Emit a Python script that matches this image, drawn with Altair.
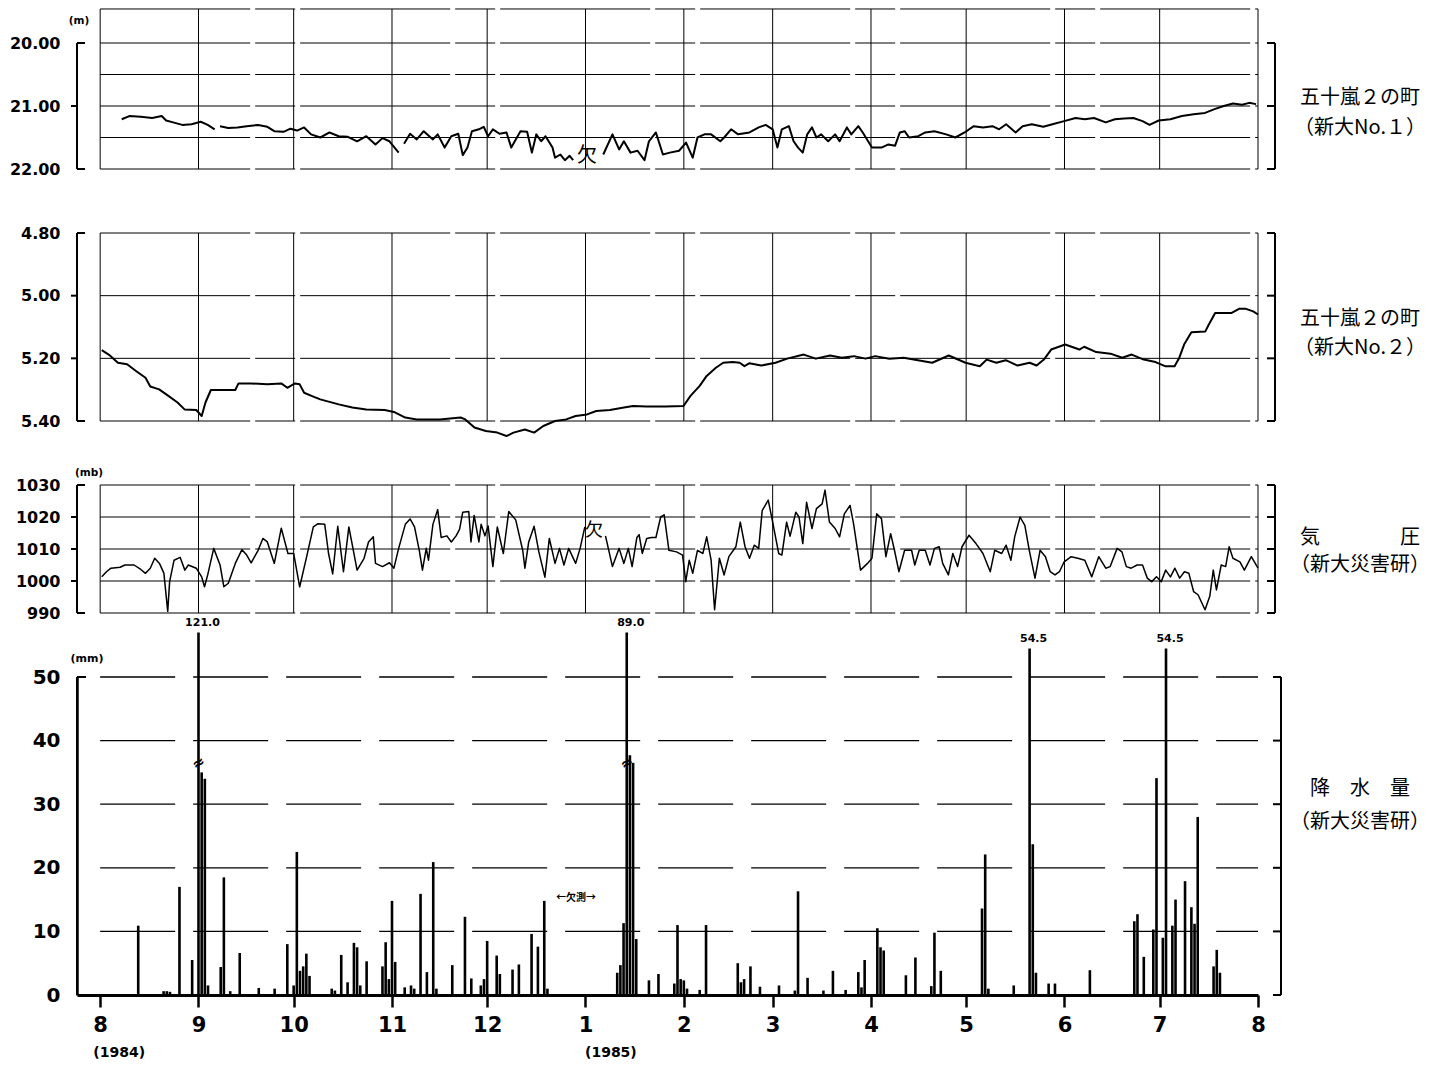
import json
import altair as alt
import pandas as pd

# ------------------------------------------------------------------ data
# x = days since 1 Aug 1984
MONTH_DAYS = [0, 31, 61, 92, 122, 153, 184, 212, 243, 273, 304, 334, 365]
MONTH_LABELS = ["8", "9", "10", "11", "12", "1", "2", "3", "4", "5", "6", "7", "8"]
YEAR_DAYS = [6, 161]
YEAR_LABELS = ["(1984)", "(1985)"]

# panel 1: 五十嵐2の町 (新大No.1), water level (m)
W1_TICKS = [20.0, 21.0, 22.0]
W1_GRID = [19.46, 20.0, 20.5, 21.0, 21.5, 22.0]
W1_SEG_A = [(6.8, 21.21), (9.2, 21.16), (12.8, 21.17), (16.4, 21.19), (19.4, 21.16), (20.8, 21.23),
            (23.0, 21.26), (25.9, 21.30), (28.8, 21.29), (31.7, 21.25), (33.9, 21.30), (36.1, 21.37)]
W1_SEG_B = [(37.8, 21.32), (40.4, 21.35), (43.3, 21.34), (46.2, 21.32), (49.8, 21.30), (52.7, 21.33),
            (54.9, 21.40), (57.8, 21.41), (60.0, 21.36), (62.1, 21.39), (64.3, 21.34), (66.5, 21.45),
            (69.4, 21.50), (72.3, 21.42), (75.2, 21.48), (78.1, 21.49), (81.0, 21.56), (83.9, 21.48),
            (86.8, 21.61), (89.0, 21.51), (91.2, 21.56), (94.1, 21.74)]
W1_SEG_C = [(95.8, 21.60), (97.7, 21.44), (99.8, 21.53), (102.0, 21.40), (104.9, 21.53), (106.4, 21.45),
            (108.6, 21.66), (110.7, 21.48), (112.9, 21.44), (114.3, 21.78), (115.8, 21.66), (117.2, 21.40),
            (119.4, 21.37), (120.9, 21.33), (122.3, 21.48), (123.8, 21.37), (125.9, 21.44), (128.1, 21.42),
            (129.6, 21.66), (132.5, 21.40), (134.6, 21.41), (136.1, 21.74), (137.5, 21.45), (139.0, 21.56),
            (140.4, 21.48), (142.6, 21.66), (143.4, 21.82), (145.1, 21.77), (146.5, 21.86), (148.0, 21.79),
            (149.1, 21.86)]
W1_SEG_D = [(158.6, 21.77), (161.5, 21.45), (163.6, 21.69), (165.1, 21.56), (167.2, 21.74), (169.4, 21.71),
            (171.6, 21.86), (173.0, 21.56), (175.2, 21.42), (177.4, 21.77), (179.6, 21.74), (182.5, 21.71),
            (184.7, 21.58), (186.8, 21.82), (188.3, 21.50), (190.5, 21.45), (192.6, 21.45), (195.5, 21.56),
            (196.7, 21.50), (198.9, 21.37), (201.1, 21.45), (204.7, 21.42), (207.6, 21.34), (209.8, 21.30),
            (212.0, 21.37), (213.5, 21.66), (214.9, 21.37), (217.1, 21.32), (218.6, 21.56), (220.0, 21.66),
            (221.5, 21.74), (222.9, 21.45), (224.4, 21.34), (225.8, 21.50), (227.3, 21.45), (229.5, 21.56),
            (231.7, 21.45), (233.1, 21.56), (235.4, 21.34), (236.8, 21.45), (239.0, 21.32), (240.4, 21.42),
            (243.3, 21.66), (246.3, 21.66), (248.5, 21.61), (250.6, 21.63), (252.1, 21.42), (253.6, 21.40),
            (255.0, 21.50), (257.9, 21.48), (260.1, 21.42), (263.0, 21.40), (266.7, 21.45), (269.6, 21.50),
            (272.5, 21.42), (275.4, 21.32), (278.3, 21.34), (281.3, 21.32), (283.4, 21.37), (285.6, 21.29),
            (288.6, 21.42), (290.8, 21.32), (293.7, 21.29), (297.3, 21.33), (300.2, 21.29), (303.9, 21.24),
            (307.5, 21.19), (310.4, 21.21), (313.3, 21.19), (317.0, 21.26), (319.9, 21.21), (322.8, 21.20),
            (325.7, 21.19), (328.6, 21.24), (330.8, 21.30), (333.7, 21.23), (337.4, 21.21), (341.0, 21.16),
            (344.7, 21.13), (348.3, 21.11), (351.3, 21.05), (354.2, 21.00), (357.1, 20.96), (360.0, 20.98),
            (362.2, 20.95), (364.4, 20.97)]
W1_SEGMENTS = [W1_SEG_A, W1_SEG_B, W1_SEG_C, W1_SEG_D]
W1_MISSING = [(153.5, 21.79, "欠")]

# panel 2: 五十嵐2の町 (新大No.2), water level (m)
W2_TICKS = [4.80, 5.00, 5.20, 5.40]
W2_GRID = [4.80, 5.00, 5.20, 5.40]
W2_SERIES = [(0.5, 5.174), (2.7, 5.188), (5.6, 5.214), (8.5, 5.219), (11.4, 5.241), (14.3, 5.262),
             (15.8, 5.290), (18.6, 5.299), (21.5, 5.320), (24.4, 5.341), (26.6, 5.363), (30.3, 5.365),
             (32.0, 5.384), (33.2, 5.341), (34.9, 5.301), (37.5, 5.301), (42.6, 5.301), (43.6, 5.280),
             (47.6, 5.280), (52.7, 5.283), (57.1, 5.280), (59.0, 5.294), (61.4, 5.280), (62.9, 5.283),
             (64.3, 5.310), (67.2, 5.322), (69.4, 5.331), (72.3, 5.339), (75.2, 5.347), (79.5, 5.357),
             (83.9, 5.363), (89.7, 5.365), (92.6, 5.371), (96.2, 5.389), (99.8, 5.395), (107.1, 5.395),
             (113.6, 5.389), (115.1, 5.395), (118.0, 5.421), (121.6, 5.432), (125.2, 5.437), (128.1, 5.448),
             (130.3, 5.437), (133.9, 5.427), (136.8, 5.437), (139.7, 5.416), (143.4, 5.400), (146.9, 5.395),
             (149.9, 5.384), (153.5, 5.379), (156.4, 5.368), (160.7, 5.365), (165.1, 5.357), (168.0, 5.352),
             (172.3, 5.354), (178.1, 5.354), (183.9, 5.352), (186.1, 5.320), (189.0, 5.288), (191.2, 5.256),
             (194.1, 5.230), (196.4, 5.214), (199.4, 5.212), (201.6, 5.214), (203.1, 5.225), (204.6, 5.216),
             (208.4, 5.223), (212.9, 5.214), (216.6, 5.201), (221.8, 5.188), (225.6, 5.201), (230.1, 5.191),
             (233.8, 5.198), (237.6, 5.193), (241.3, 5.201), (244.3, 5.193), (248.8, 5.201), (253.3, 5.198),
             (257.8, 5.206), (262.3, 5.214), (267.5, 5.191), (272.8, 5.214), (277.3, 5.225), (279.5, 5.204),
             (282.5, 5.214), (285.5, 5.206), (289.2, 5.223), (293.0, 5.214), (295.2, 5.223), (297.5, 5.204),
             (299.8, 5.172), (304.2, 5.156), (308.7, 5.172), (310.2, 5.163), (314.0, 5.180), (318.5, 5.185),
             (322.2, 5.198), (325.2, 5.188), (329.0, 5.204), (332.7, 5.212), (335.7, 5.225), (338.7, 5.225),
             (340.2, 5.198), (341.7, 5.156), (344.0, 5.117), (348.4, 5.114), (349.5, 5.092), (351.5, 5.055),
             (356.7, 5.055), (359.0, 5.042), (361.2, 5.042), (363.5, 5.050), (365.0, 5.060)]
W2_SEGMENTS = [W2_SERIES]

# panel 3: 気圧 (新大災害研), pressure (mb)
P_TICKS = [990, 1000, 1010, 1020, 1030]
P_GRID = [990, 1000, 1010, 1020, 1030]
P_SEG_1 = [(0.5, 1001.3), (2.0, 1002.9), (3.4, 1004.0), (6.3, 1004.3), (7.8, 1005.0), (10.7, 1005.0),
           (12.8, 1003.6), (14.3, 1002.4), (15.8, 1004.0), (17.2, 1007.1), (18.7, 1005.5), (20.1, 1002.4),
           (21.3, 990.5), (21.9, 999.8), (23.3, 1006.5), (25.2, 1007.4), (26.7, 1003.4), (27.8, 1005.0),
           (30.3, 1004.0), (32.0, 1001.3), (32.9, 998.2), (33.9, 1001.9), (35.8, 1010.2), (37.8, 1005.0),
           (39.0, 998.2), (40.4, 999.3), (42.6, 1005.5), (44.7, 1009.8), (46.2, 1008.1), (47.6, 1005.7),
           (49.8, 1009.6), (51.3, 1013.3), (52.7, 1012.2), (54.9, 1005.5), (57.1, 1016.5), (59.2, 1008.6),
           (61.0, 1008.6), (62.9, 998.2), (65.1, 1007.6), (67.2, 1016.9), (68.7, 1017.9), (70.8, 1017.7),
           (72.0, 1008.6), (73.3, 1002.2), (74.9, 1017.1), (76.7, 1002.9), (78.4, 1016.9), (81.0, 1003.4),
           (83.2, 1007.1), (84.6, 1012.2), (86.1, 1013.8), (86.8, 1005.5), (89.0, 1004.5), (91.2, 1005.7),
           (92.6, 1004.0), (94.1, 1010.2), (96.2, 1017.7), (97.7, 1019.4), (99.1, 1016.9), (100.6, 1009.6),
           (101.6, 1003.4), (102.8, 1010.2), (103.5, 1006.5), (104.9, 1017.7), (106.4, 1022.3), (107.5, 1013.6),
           (109.3, 1014.1), (110.7, 1012.2), (112.2, 1014.1), (113.3, 1016.1), (114.3, 1021.5), (116.2, 1021.7),
           (116.9, 1012.2), (117.9, 1020.5), (119.4, 1012.2), (120.1, 1017.7), (121.3, 1014.1), (122.3, 1017.2),
           (123.8, 1004.5), (125.2, 1016.9), (127.1, 1008.6), (128.8, 1021.7), (131.0, 1019.1), (133.2, 1009.6),
           (133.9, 1004.0), (135.1, 1012.2), (136.8, 1017.1), (138.3, 1009.1), (140.2, 1001.2), (141.6, 1013.3),
           (143.4, 1005.5), (144.8, 1010.2), (146.2, 1005.0), (147.7, 1010.2), (149.9, 1005.5), (151.3, 1010.2),
           (152.8, 1016.9)]
P_SEG_2 = [(159.3, 1014.1), (161.5, 1004.5), (163.6, 1010.2), (165.1, 1005.5), (166.5, 1010.2), (167.7, 1004.5),
           (169.2, 1013.6), (169.9, 1014.5), (170.9, 1008.6), (172.3, 1013.3), (173.8, 1013.6), (175.2, 1013.6),
           (176.7, 1020.0), (177.8, 1020.7), (179.3, 1009.6), (181.7, 1009.1), (183.6, 1008.1), (184.6, 999.8),
           (185.7, 1006.5), (186.8, 1002.4), (188.3, 1009.6), (190.0, 1008.6), (191.2, 1013.8), (192.6, 1006.5),
           (193.7, 991.0), (195.2, 1007.1), (196.7, 1001.9), (198.2, 1007.6), (200.4, 1010.7), (201.8, 1018.4),
           (203.3, 1010.7), (204.7, 1007.1), (206.2, 1011.2), (207.6, 1010.2), (208.7, 1022.0), (210.6, 1025.3),
           (212.0, 1018.4), (213.9, 1008.6), (214.9, 1008.1), (216.4, 1018.4), (217.5, 1014.0), (219.3, 1021.5),
           (220.3, 1020.0), (221.5, 1011.7), (222.7, 1024.6), (224.4, 1016.4), (225.8, 1022.6), (227.6, 1024.1),
           (228.5, 1028.4), (229.9, 1018.4), (231.7, 1016.4), (233.1, 1013.8), (234.6, 1021.0), (236.4, 1023.6),
           (237.5, 1017.9), (239.7, 1003.4), (241.9, 1005.5), (243.3, 1007.1), (244.8, 1021.0), (246.3, 1019.5),
           (247.7, 1007.6), (249.2, 1014.8), (250.4, 1009.6), (251.8, 1002.9), (253.6, 1009.6), (255.8, 1009.6),
           (256.8, 1005.0), (258.2, 1009.6), (260.1, 1009.6), (261.6, 1005.0), (263.0, 1010.2), (264.5, 1010.7),
           (265.6, 1005.5), (267.4, 1001.9), (268.8, 1008.6), (270.3, 1004.5), (271.7, 1010.7), (273.9, 1014.3),
           (276.1, 1011.7), (278.3, 1008.6), (280.6, 1002.9), (282.0, 1009.6), (284.2, 1008.6), (285.6, 1011.2),
           (287.1, 1006.5), (288.3, 1013.8), (290.0, 1020.0), (291.5, 1017.4), (292.9, 1009.6), (294.7, 1000.9),
           (296.3, 1009.6), (298.0, 1007.6), (299.5, 1002.9), (301.0, 1001.9), (302.4, 1002.9), (303.9, 1006.0),
           (306.1, 1007.6), (308.2, 1007.1), (310.4, 1006.5), (312.6, 1001.3), (314.8, 1007.6), (317.0, 1004.0),
           (318.4, 1004.5), (320.6, 1010.2), (322.1, 1009.1), (323.5, 1004.5), (325.0, 1004.0), (326.9, 1005.0),
           (328.6, 1005.0), (330.1, 1000.9), (331.5, 999.8), (333.0, 1001.3), (334.5, 999.8), (335.9, 1003.4),
           (337.4, 1001.3), (338.8, 1004.0), (340.3, 1000.9), (341.8, 1002.9), (343.2, 1002.4), (344.7, 996.7),
           (346.1, 995.7), (348.3, 991.0), (349.8, 995.2), (350.9, 1003.4), (351.9, 997.2), (353.4, 1005.0),
           (354.8, 1004.5), (355.9, 1010.7), (357.1, 1007.1), (359.3, 1006.0), (360.7, 1003.4), (362.9, 1007.6),
           (365.0, 1004.0)]
P_SEGMENTS = [P_SEG_1, P_SEG_2]
P_MISSING = [(155.7, 1015.5, "欠")]

# panel 4: 降水量 (新大災害研), daily precipitation (mm)
RAIN_TICKS = [0, 10, 20, 30, 40, 50]
RAIN_GRID = [10, 20, 30, 40, 50]
RAIN = [(12, 10.9), (20, 0.6), (21, 0.6), (22, 0.5), (25, 17.0), (29, 5.5), (31, 121.0), (32, 35.0),
        (33, 34.0), (34, 1.5), (38, 4.4), (39, 18.5), (41, 0.6), (44, 6.6), (50, 1.1), (55, 1.0), (59, 8.0),
        (61, 1.5), (62, 22.5), (63, 3.8), (64, 4.5), (65, 6.5), (66, 3.0), (73, 1.0), (74, 0.7), (76, 6.3),
        (78, 2.0), (80, 8.2), (81, 7.5), (82, 1.5), (84, 5.3), (89, 4.5), (90, 8.3), (91, 2.5), (92, 14.8),
        (93, 5.2), (96, 1.2), (98, 1.5), (99, 1.0), (101, 15.9), (103, 3.6), (105, 20.9), (106, 1.0),
        (111, 4.7), (115, 12.3), (117, 2.6), (120, 1.5), (121, 2.5), (122, 8.5), (125, 6.2), (126, 3.3),
        (130, 4.0), (132, 4.8), (136, 9.6), (138, 7.6), (140, 14.8), (141, 1.0), (163, 3.5), (164, 4.7),
        (165, 11.3), (166, 89.0), (167, 37.7), (168, 36.5), (169, 8.8), (173, 2.3), (176, 3.3), (181, 1.8),
        (182, 11.0), (183, 2.5), (184, 2.3), (185, 1.0), (189, 0.8), (191, 11.0), (201, 5.0), (202, 2.0),
        (203, 2.5), (205, 4.5), (208, 1.3), (214, 1.5), (219, 0.7), (220, 16.3), (223, 2.7), (228, 0.7),
        (231, 3.8), (235, 0.8), (239, 3.6), (240, 1.2), (241, 5.5), (245, 10.5), (246, 7.5), (247, 7.0),
        (254, 3.1), (257, 5.9), (262, 1.4), (263, 9.8), (265, 3.8), (278, 13.6), (279, 22.1), (280, 1.0),
        (288, 1.5), (293, 54.5), (294, 23.7), (295, 3.5), (299, 1.8), (301, 1.8), (312, 3.9), (326, 11.6),
        (327, 12.7), (329, 6.0), (332, 10.3), (333, 34.1), (335, 9.0), (336, 54.5), (338, 10.9), (339, 15.0),
        (342, 17.9), (344, 13.8), (345, 11.2), (346, 28.0), (351, 4.5), (352, 7.1), (353, 3.5)]
RAIN_CLIP = 57.0      # bars above this are drawn broken
RAIN_BREAK = 36.5     # where the break sign sits
RAIN_LABEL_MIN = 50.0
RAIN_MISSING = [(150, 15.3, "←欠測→")]

# ------------------------------------------------------------------ style / layout
W = 1181
XDOM = [-7.3, 365.0]
H1, H2, H3, H4 = 126, 188, 128, 318
NUM_FONT = "DejaVu Sans"
CJK_FONT = "Noto Sans CJK JP"
INK = "black"
GRID_DASH = [150, 5, 40, 5]
RAIN_DASH = [75, 18]
RX = W + 102  # centre of right-hand captions


def x_factory(axis=None):
    def xenc(field):
        return alt.X(field, type="quantitative",
                     scale=alt.Scale(domain=XDOM, nice=False, zero=False), axis=axis)
    return xenc


def y_factory(dom, reverse, axis):
    def yenc(field):
        return alt.Y(field, type="quantitative",
                     scale=alt.Scale(domain=dom, reverse=reverse, nice=False, zero=False), axis=axis)
    return yenc


def num_axis(values, fmt, size=16, pad=17, domain=False):
    return alt.Axis(values=values, format=fmt, title=None, grid=False, ticks=False, tickSize=0,
                    domain=domain, domainColor=INK, domainWidth=2.5, labelPadding=pad,
                    labelFont=NUM_FONT, labelFontSize=size, labelFontWeight="bold", labelColor=INK,
                    labelOverlap=False)


def note(txt, x, y, size=20, font=CJK_FONT, weight="normal"):
    return alt.Chart(pd.DataFrame({"t": [txt]})).mark_text(
        font=font, fontSize=size, fontWeight=weight, color=INK, align="center", baseline="middle"
    ).encode(text="t:N", x=alt.value(x), y=alt.value(y))


def data_note(rows, xenc, yenc, size, font=CJK_FONT, weight="normal"):
    df = pd.DataFrame(rows, columns=["d", "v", "t"])
    return alt.Chart(df).mark_text(font=font, fontSize=size, fontWeight=weight, color=INK,
                                   align="center", baseline="middle").encode(
        x=xenc("d"), y=yenc("v"), text="t:N")


def hgrid(xenc, yenc, values, x0, x1, dash, width=1.0):
    df = pd.DataFrame({"v": values, "x0": x0, "x1": x1})
    return alt.Chart(df).mark_rule(color=INK, strokeWidth=width, strokeDash=dash).encode(
        x=xenc("x0"), x2=alt.X2("x1"), y=yenc("v"))


def vgrid(xenc, yenc, top, bot):
    df = pd.DataFrame({"d": MONTH_DAYS, "top": top, "bot": bot})
    return alt.Chart(df).mark_rule(color=INK, strokeWidth=1.0).encode(
        x=xenc("d"), y=yenc("top"), y2=alt.Y2("bot"))


def bracket(yenc, lo, hi, x_line, caps, cap_x, ticks, tick_x, width=2.0):
    layers = [alt.Chart(pd.DataFrame({"lo": [lo], "hi": [hi]})).mark_rule(
        color=INK, strokeWidth=width).encode(x=alt.value(x_line), y=yenc("lo"), y2=alt.Y2("hi"))]
    if caps:
        layers.append(alt.Chart(pd.DataFrame({"v": caps})).mark_rule(color=INK, strokeWidth=width).encode(
            x=alt.value(cap_x[0]), x2=alt.value(cap_x[1]), y=yenc("v")))
    if ticks:
        layers.append(alt.Chart(pd.DataFrame({"v": ticks})).mark_rule(color=INK, strokeWidth=width).encode(
            x=alt.value(tick_x[0]), x2=alt.value(tick_x[1]), y=yenc("v")))
    return layers


def seg_frame(segments):
    rows = [{"d": d, "v": v, "seg": i} for i, seg in enumerate(segments) for d, v in seg]
    return pd.DataFrame(rows)


def line_panel(segments, ticks, grid, dom, height, fmt, line_width, unit, unit_xy,
               captions, missing, missing_size, top=None):
    xenc = x_factory(None)
    yenc = y_factory(dom, True if dom[0] < dom[1] and fmt == ".2f" else False,
                     num_axis(ticks, fmt))
    top_v = grid[0] if top is None else top
    bot_v = grid[-1]
    lo, hi = ticks[0], ticks[-1]
    inner = ticks[1:-1]
    layers = [
        hgrid(xenc, yenc, grid, 0, 365, GRID_DASH),
        vgrid(xenc, yenc, top_v, bot_v),
        alt.Chart(seg_frame(segments)).mark_line(color=INK, strokeWidth=line_width,
                                                  strokeJoin="round").encode(
            x=xenc("d"), y=yenc("v"), detail="seg:N"),
        *bracket(yenc, lo, hi, 0, [lo, hi], (0, 8), inner, (-6, 0)),
        *bracket(yenc, lo, hi, W + 17, ticks, (W + 9, W + 17), [], None),
    ]
    if unit:
        layers.append(note(unit, unit_xy[0], unit_xy[1], size=10.5, font=NUM_FONT, weight="bold"))
    for txt, y in captions:
        layers.append(note(txt, RX, y, size=20))
    if missing:
        layers.append(data_note(missing, xenc, yenc, missing_size))
    return alt.layer(*layers).properties(width=W, height=height)


p1 = line_panel(W1_SEGMENTS, W1_TICKS, W1_GRID, [20.0, 22.0], H1, ".2f", 2.0, "(m)", (2, -22),
                [("五十嵐２の町", 55), ("（新大No.１）", 85)], W1_MISSING, 20,
                top=W1_GRID[0])
p2 = line_panel(W2_SEGMENTS, W2_TICKS, W2_GRID, [4.80, 5.40], H2, ".2f", 2.0, None, None,
                [("五十嵐２の町", 86), ("（新大No.２）", 115)], None, 0)
p3 = line_panel(P_SEGMENTS, P_TICKS, P_GRID[::-1], [990, 1030], H3, "d", 1.5, "(mb)", (12, -12),
                [("気　　　　圧", 53), ("（新大災害研）", 80)], P_MISSING, 18)

# ---- rain panel
label_expr = f"{json.dumps(MONTH_LABELS)}[indexof({json.dumps(MONTH_DAYS)}, datum.value)]"
XAXIS = alt.Axis(values=MONTH_DAYS, labelExpr=label_expr, title=None, grid=False,
                 domain=True, domainColor=INK, domainWidth=3, ticks=True, tickColor=INK,
                 tickWidth=2.5, tickSize=12, labelPadding=7, labelFont=NUM_FONT, labelFontSize=21,
                 labelFontWeight="bold", labelColor=INK, labelOverlap=False, labelFlush=False)
x4 = x_factory(XAXIS)
y4 = y_factory([0, 50], False, num_axis(RAIN_TICKS, "d", size=20, pad=17, domain=True))

rain_df = pd.DataFrame(RAIN, columns=["d", "mm"])
rain_df["base"] = 0.0
rain_df["shown"] = rain_df["mm"].clip(upper=RAIN_CLIP)
big_df = rain_df[rain_df["mm"] > RAIN_LABEL_MIN]
brk_df = rain_df[rain_df["mm"] > RAIN_CLIP].assign(b=RAIN_BREAK)
year_df = pd.DataFrame({"d": YEAR_DAYS, "t": YEAR_LABELS})

p4 = alt.layer(
    hgrid(x4, y4, RAIN_GRID, 0, 365, RAIN_DASH, width=1.3),
    alt.Chart(rain_df).mark_rule(color=INK, strokeWidth=2.6).encode(
        x=x4("d"), y=y4("base"), y2=alt.Y2("shown")),
    alt.Chart(big_df).mark_text(font=NUM_FONT, fontSize=11, fontWeight="bold", color=INK,
                                baseline="bottom", dy=-4, dx=4).encode(
        x=x4("d"), y=y4("shown"), text=alt.Text("mm:Q", format=".1f")),
    alt.Chart(brk_df).mark_text(text="≈", font=NUM_FONT, fontSize=15, fontWeight="bold",
                                color=INK, angle=330).encode(x=x4("d"), y=y4("b")),
    data_note(RAIN_MISSING, x4, y4, 10, weight="bold"),
    *bracket(y4, 0, 50, 0, [50], (0, 9), [], None),
    *bracket(y4, 0, 50, W + 23, RAIN_TICKS, (W + 15, W + 23), [], None),
    note("(mm)", 10, -18, size=11, font=NUM_FONT, weight="bold"),
    note("降　水　量", RX, 112, size=20),
    note("（新大災害研）", RX, 145, size=20),
    alt.Chart(year_df).mark_text(font=NUM_FONT, fontSize=14, fontWeight="bold", color=INK,
                                 baseline="middle").encode(
        x=x4("d"), y=alt.value(H4 + 58), text="t:N"),
).properties(width=W, height=H4)

chart = alt.vconcat(p1, p2, p3, p4, spacing=64, bounds="flush").properties(
    padding={"left": 1, "top": 0, "right": 0, "bottom": 0},
    background="white",
).configure_view(stroke=None)

chart.save("out.html", embed_options={"renderer": "svg", "actions": False})
